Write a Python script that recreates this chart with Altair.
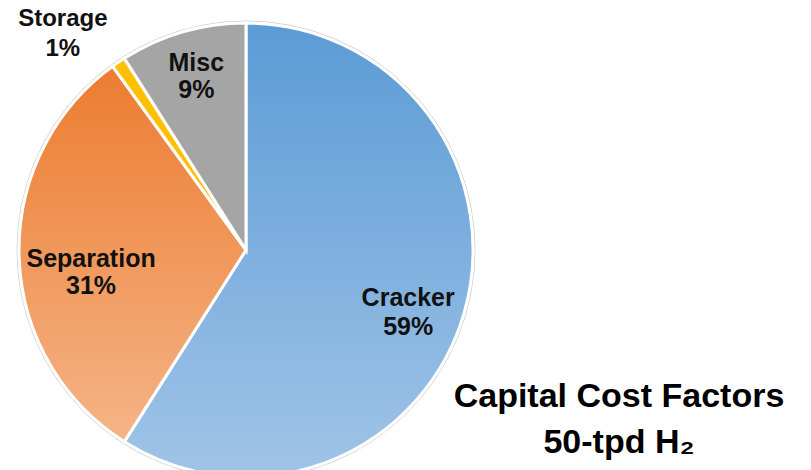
import altair as alt
import pandas as pd

categories = ["Cracker", "Separation", "Storage", "Misc"]
shares = [59, 31, 1, 9]
title_line1 = "Capital Cost Factors"
title_line2 = "50-tpd H\u2082"

df = pd.DataFrame({"category": categories, "share": shares})
df["end"] = df["share"].cumsum()
df["start"] = df["end"] - df["share"]
df["mid"] = (df["start"] + df["end"]) / 2
df["pct"] = df["share"].astype(str) + "%"

CX, CY, R = 246, 250, 227
FONT = "Liberation Sans"
TAU = 6.283185307179586

theta_scale = alt.Scale(domain=[0, 100], range=[0, TAU])

def grad(c1, c2):
    return alt.Gradient(
        gradient="linear",
        stops=[alt.GradientStop(color=c1, offset=0), alt.GradientStop(color=c2, offset=1)],
        x1=0, x2=0, y1=0, y2=1,
    )

fills = {
    "Cracker": grad("#5B9BD5", "#A0C4E7"),
    "Separation": grad("#EC7C30", "#F5B487"),
    "Storage": "#FFC000",
    "Misc": "#A5A5A5",
}

base = alt.Chart(df)

outline = base.transform_filter(alt.datum.category == "Cracker").mark_arc(
    x=CX, y=CY, radius=R + 2, fill="white", stroke="#cfcfcf", strokeWidth=1,
    theta=0, theta2=TAU,
).encode(opacity=alt.value(1))

slices = []
for cat in categories:
    slices.append(
        base.transform_filter(alt.datum.category == cat)
        .mark_arc(x=CX, y=CY, radius=R, stroke="white", strokeWidth=3, fill=fills[cat])
        .encode(
            theta=alt.Theta("start:Q", scale=theta_scale),
            theta2="end:Q",
        )
    )

# label placement: radius from centre, then pixel nudges for the two lines
label_cfg = {
    "Cracker": dict(radius=172, dx=-3, dy=15, size=25, half=14.5),
    "Separation": dict(radius=155, dx=0, dy=18, size=25, half=13.5),
    "Storage": dict(radius=285, dx=-23, dy=20, size=24, half=15),
    "Misc": dict(radius=178, dx=0, dy=-3, size=25, half=13.5),
}
labels = []
for cat in categories:
    cfg = label_cfg[cat]
    for field, sign in (("category", -1), ("pct", 1)):
        labels.append(
            base.transform_filter(alt.datum.category == cat)
            .mark_text(
                x=CX, y=CY, radius=cfg["radius"], dx=cfg["dx"], dy=cfg["dy"] + sign * cfg["half"],
                font=FONT, fontSize=cfg["size"], fontWeight="bold", color="#111111",
                align="center", baseline="middle",
            )
            .encode(theta=alt.Theta("mid:Q", scale=theta_scale), text=f"{field}:N")
        )

t1 = alt.Chart(pd.DataFrame({"t": [title_line1]})).mark_text(
    font=FONT, fontSize=34, fontWeight="bold", color="black", align="center", baseline="middle"
).encode(x=alt.value(619), y=alt.value(397), text="t:N")
t2 = alt.Chart(pd.DataFrame({"t": [title_line2]})).mark_text(
    font=FONT, fontSize=34, fontWeight="bold", color="black", align="center", baseline="middle"
).encode(x=alt.value(619), y=alt.value(443), text="t:N")

chart = alt.layer(outline, *slices, *labels, t1, t2).properties(
    width=811, height=470, padding=0, autosize=alt.AutoSizeParams(type="none")
).configure_view(stroke=None)

chart.save("out.html", embed_options={"renderer": "svg", "actions": False})
